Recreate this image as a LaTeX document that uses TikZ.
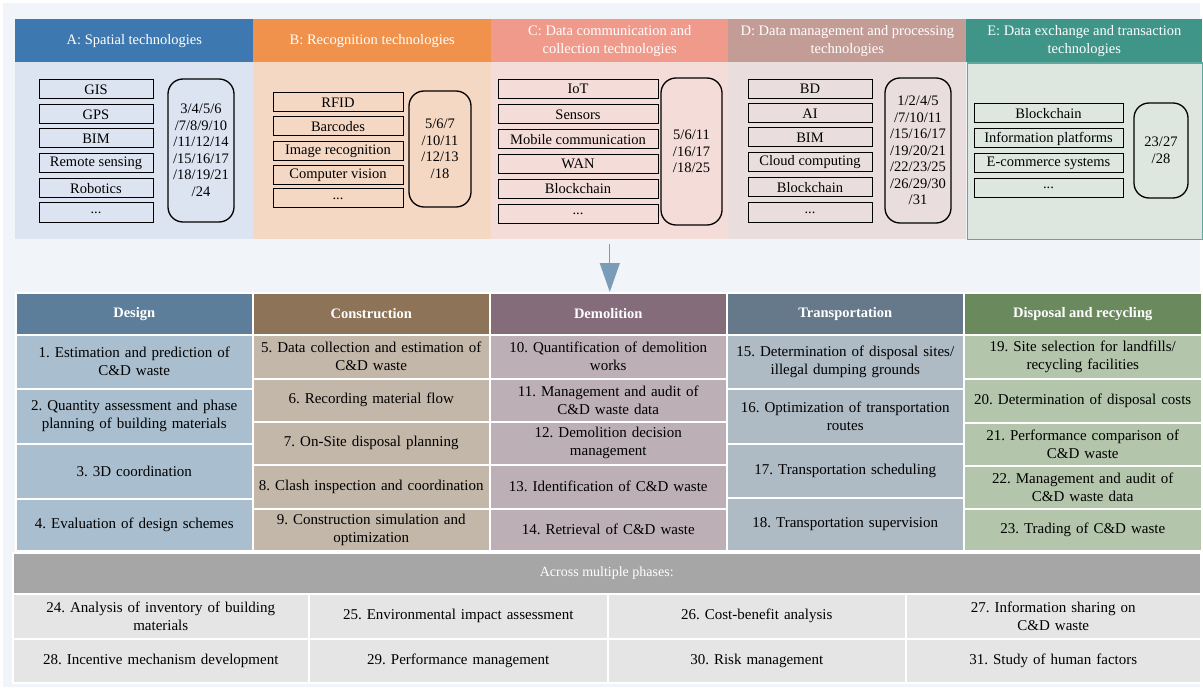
\documentclass[tikz,border=0pt]{standalone}
\usepackage{fontspec}
\setmainfont{Liberation Serif}
\usepackage{tikz}
\usetikzlibrary{arrows.meta}

\definecolor{pagebg}{HTML}{F1F5F9}
\definecolor{hdA}{HTML}{3E78B1}
\definecolor{bdA}{HTML}{DCE4F1}
\definecolor{hdB}{HTML}{F0924B}
\definecolor{bdB}{HTML}{F5D8C4}
\definecolor{hdC}{HTML}{F09A8B}
\definecolor{bdC}{HTML}{F4DCD8}
\definecolor{hdD}{HTML}{C49C96}
\definecolor{bdD}{HTML}{E9DEDD}
\definecolor{hdE}{HTML}{3F9588}
\definecolor{bdE}{HTML}{DDE7E0}
\definecolor{lnE}{HTML}{5FA99C}
\definecolor{arrowblue}{HTML}{7B9CB7}
\definecolor{phDes}{HTML}{5C7E9A}
\definecolor{phCon}{HTML}{8D7358}
\definecolor{phDem}{HTML}{856C7A}
\definecolor{phTra}{HTML}{66798A}
\definecolor{phDis}{HTML}{6A8A5E}
\definecolor{clDes}{HTML}{A9BECE}
\definecolor{clCon}{HTML}{C3B7AA}
\definecolor{clDem}{HTML}{BDAFB6}
\definecolor{clTra}{HTML}{AEBAC4}
\definecolor{clDis}{HTML}{B3C5AB}
\definecolor{acrossgray}{HTML}{A6A6A6}
\definecolor{acrosscell}{HTML}{E5E5E6}

\begin{document}
\frenchspacing
\begin{tikzpicture}[x=1pt,y=-1pt,line width=0.2mm,
  tophead/.style={anchor=north west,inner sep=0,minimum height=43,minimum width=238,text=white,align=center,font=\fontsize{14.5}{18}\selectfont},
  topbody/.style={anchor=north west,inner sep=0,minimum height=177,minimum width=238},
  techbox/.style={draw=black,line width=1pt,inner sep=0,minimum height=19,font=\fontsize{14.5}{16}\selectfont},
  refbox/.style={draw=black,line width=1.3pt,rounded corners=15pt,inner sep=0,align=center,font=\fontsize{14.5}{16.5}\selectfont},
  phasehead/.style={anchor=north west,inner sep=0,draw=white,line width=1.5pt,minimum height=42,minimum width=237,text=white,font=\fontsize{14.5}{16}\selectfont\bfseries},
  taskcell/.style={anchor=north west,inner sep=0,draw=white,line width=1.5pt,minimum width=237,text width=232,align=center,font=\fontsize{15}{18}\selectfont},
  flow/.style={draw=arrowblue,line width=1.2pt,-{Triangle[width=20pt,length=29pt]}}
]

\useasboundingbox (0,0) rectangle (1203,690);
\fill[white] (0,0) rectangle (1203,690);
\fill[pagebg] (3,3) rectangle (1200,687);

% technology groups
\node[tophead,fill=hdA] (headA) at (15,19) {A: Spatial technologies};
\node[tophead,fill=hdB] (headB) at (253,19) {B: Recognition technologies};
\node[tophead,fill=hdC,minimum width=237] (headC) at (491,19) {C: Data communication and\\collection technologies};
\node[tophead,fill=hdD] (headD) at (728,19) {D: Data management and processing\\technologies};
\node[tophead,fill=hdE,minimum width=236] (headE) at (966,19) {E: Data exchange and transaction\\technologies};

\node[topbody,fill=bdA] (bodyA) at (15,62) {};
\node[topbody,fill=bdB] (bodyB) at (253,62) {};
\node[topbody,fill=bdC,minimum width=237] (bodyC) at (491,62) {};
\node[topbody,fill=bdD] (bodyD) at (728,62) {};
\node[topbody,fill=bdE,draw=lnE,line width=1.5pt,minimum width=235,minimum height=176] (bodyE) at (966.5,62.5) {};

% A
\node[techbox,minimum width=114] (aGIS) at (96,89.5) {GIS};
\node[techbox,minimum width=114] (aGPS) at (96,114.5) {GPS};
\node[techbox,minimum width=114] (aBIM) at (96,138.5) {BIM};
\node[techbox,minimum width=114] (aRS) at (96,163) {Remote sensing};
\node[techbox,minimum width=114] (aRob) at (96,188.5) {Robotics};
\node[techbox,minimum width=114] (aMore) at (96,212.5) {...};
\node[refbox,minimum width=66,minimum height=143] (refA) at (201,150.5) {3/4/5/6\\/7/8/9/10\\/11/12/14\\/15/16/17\\/18/19/21\\/24};

% B
\node[techbox,minimum width=130] (bRFID) at (338,102.5) {RFID};
\node[techbox,minimum width=130] (bBar) at (338,126.5) {Barcodes};
\node[techbox,minimum width=130] (bImg) at (338,151.5) {Image recognition};
\node[techbox,minimum width=130] (bCV) at (338,175.5) {Computer vision};
\node[techbox,minimum width=130] (bMore) at (338,198.5) {...};
\node[refbox,minimum width=62,minimum height=116] (refB) at (440,149) {5/6/7\\/10/11\\/12/13\\/18};

% C
\node[techbox,minimum width=160] (cIoT) at (578,89) {IoT};
\node[techbox,minimum width=160] (cSen) at (578,114.5) {Sensors};
\node[techbox,minimum width=160] (cMob) at (578,139.5) {Mobile communication};
\node[techbox,minimum width=160] (cWAN) at (578,164) {WAN};
\node[techbox,minimum width=160] (cBlk) at (578,189) {Blockchain};
\node[techbox,minimum width=160] (cMore) at (578,214) {...};
\node[refbox,minimum width=61,minimum height=147] (refC) at (691.5,151.5) {5/6/11\\/16/17\\/18/25};

% D
\node[techbox,minimum width=124] (dBD) at (810,89) {BD};
\node[techbox,minimum width=124] (dAI) at (810,113.5) {AI};
\node[techbox,minimum width=124] (dBIM) at (810,137.5) {BIM};
\node[techbox,minimum width=124] (dCloud) at (810,162.5) {Cloud computing};
\node[techbox,minimum width=124] (dBlk) at (810,187.5) {Blockchain};
\node[techbox,minimum width=124] (dMore) at (810,212.5) {...};
\node[refbox,minimum width=66,minimum height=145] (refD) at (918,150.5) {1/2/4/5\\/7/10/11\\/15/16/17\\/19/20/21\\/22/23/25\\/26/29/30\\/31};

% E
\node[techbox,minimum width=149] (eBlk) at (1048.5,113.5) {Blockchain};
\node[techbox,minimum width=149] (eInfo) at (1048.5,138.5) {Information platforms};
\node[techbox,minimum width=149] (eCom) at (1048.5,163) {E-commerce systems};
\node[techbox,minimum width=149] (eMore) at (1048.5,188) {...};
\node[refbox,minimum width=54,minimum height=95] (refE) at (1161,150.5) {23/27\\/28};

% phases
\node[phasehead,fill=phDes] (phDesign) at (15,292) {Design};
\node[phasehead,fill=phCon] (phConstr) at (252,292) {Construction};
\node[phasehead,fill=phDem] (phDemol) at (489,292) {Demolition};
\node[phasehead,fill=phTra] (phTrans) at (726,292) {Transportation};
\node[phasehead,fill=phDis,minimum width=238] (phDisp) at (963,292) {Disposal and recycling};

\draw[flow,shorten <=4pt] (bodyC.south) -- (bodyC.south |- phDemol.north);

\node[taskcell,fill=clDes,minimum height=54] (t1) at (15,334) {1. Estimation and prediction of\\C\&D waste};
\node[taskcell,fill=clDes,minimum height=55] (t2) at (15,388) {2. Quantity assessment and phase\\planning of building materials};
\node[taskcell,fill=clDes,minimum height=55] (t3) at (15,443) {3. 3D coordination};
\node[taskcell,fill=clDes,minimum height=52] (t4) at (15,498) {4. Evaluation of design schemes};

\node[taskcell,fill=clCon,minimum height=44] (t5) at (252,334) {5. Data collection and estimation of\\C\&D waste};
\node[taskcell,fill=clCon,minimum height=43] (t6) at (252,378) {6. Recording material flow};
\node[taskcell,fill=clCon,minimum height=43] (t7) at (252,421) {7. On-Site disposal planning};
\node[taskcell,fill=clCon,minimum height=44] (t8) at (252,464) {8. Clash inspection and coordination};
\node[taskcell,fill=clCon,minimum height=42] (t9) at (252,508) {9. Construction simulation and\\optimization};

\node[taskcell,fill=clDem,minimum height=44] (t10) at (489,334) {10. Quantification of demolition\\works};
\node[taskcell,fill=clDem,minimum height=43] (t11) at (489,378) {11. Management and audit of\\C\&D waste data};
\node[taskcell,fill=clDem,minimum height=43] (t12) at (489,421) {12. Demolition decision\\management};
\node[taskcell,fill=clDem,minimum height=44] (t13) at (489,464) {13. Identification of C\&D waste};
\node[taskcell,fill=clDem,minimum height=42] (t14) at (489,508) {14. Retrieval of C\&D waste};

\node[taskcell,fill=clTra,minimum height=54] (t15) at (726,334) {15. Determination of disposal sites/\\illegal dumping grounds};
\node[taskcell,fill=clTra,minimum height=55] (t16) at (726,388) {16. Optimization of transportation\\routes};
\node[taskcell,fill=clTra,minimum height=54] (t17) at (726,443) {17. Transportation scheduling};
\node[taskcell,fill=clTra,minimum height=53] (t18) at (726,497) {18. Transportation supervision};

\node[taskcell,fill=clDis,minimum width=238,minimum height=44] (t19) at (963,334) {19. Site selection for landfills/\\recycling facilities};
\node[taskcell,fill=clDis,minimum width=238,minimum height=44] (t20) at (963,378) {20. Determination of disposal costs};
\node[taskcell,fill=clDis,minimum width=238,minimum height=43] (t21) at (963,422) {21. Performance comparison of\\C\&D waste};
\node[taskcell,fill=clDis,minimum width=238,minimum height=43] (t22) at (963,465) {22. Management and audit of\\C\&D waste data};
\node[taskcell,fill=clDis,minimum width=238,minimum height=42] (t23) at (963,508) {23. Trading of C\&D waste};

% across multiple phases
\node[phasehead,fill=acrossgray,minimum width=1188,minimum height=41,font=\fontsize{14}{16}\selectfont] (across) at (12,552) {Across multiple phases:};

\node[taskcell,fill=acrosscell,minimum width=296,text width=285,minimum height=45] (t24) at (12,593) {24. Analysis of inventory of building\\materials};
\node[taskcell,fill=acrosscell,minimum width=299,text width=285,minimum height=45] (t25) at (308,593) {25. Environmental impact assessment};
\node[taskcell,fill=acrosscell,minimum width=298,text width=285,minimum height=45] (t26) at (607,593) {26. Cost-benefit analysis};
\node[taskcell,fill=acrosscell,minimum width=295,text width=285,minimum height=45] (t27) at (905,593) {27. Information sharing on\\C\&D waste};
\node[taskcell,fill=acrosscell,minimum width=296,text width=285,minimum height=44] (t28) at (12,638) {28. Incentive mechanism development};
\node[taskcell,fill=acrosscell,minimum width=299,text width=285,minimum height=44] (t29) at (308,638) {29. Performance management};
\node[taskcell,fill=acrosscell,minimum width=298,text width=285,minimum height=44] (t30) at (607,638) {30. Risk management};
\node[taskcell,fill=acrosscell,minimum width=295,text width=285,minimum height=44] (t31) at (905,638) {31. Study of human factors};
\end{tikzpicture}
\end{document}
